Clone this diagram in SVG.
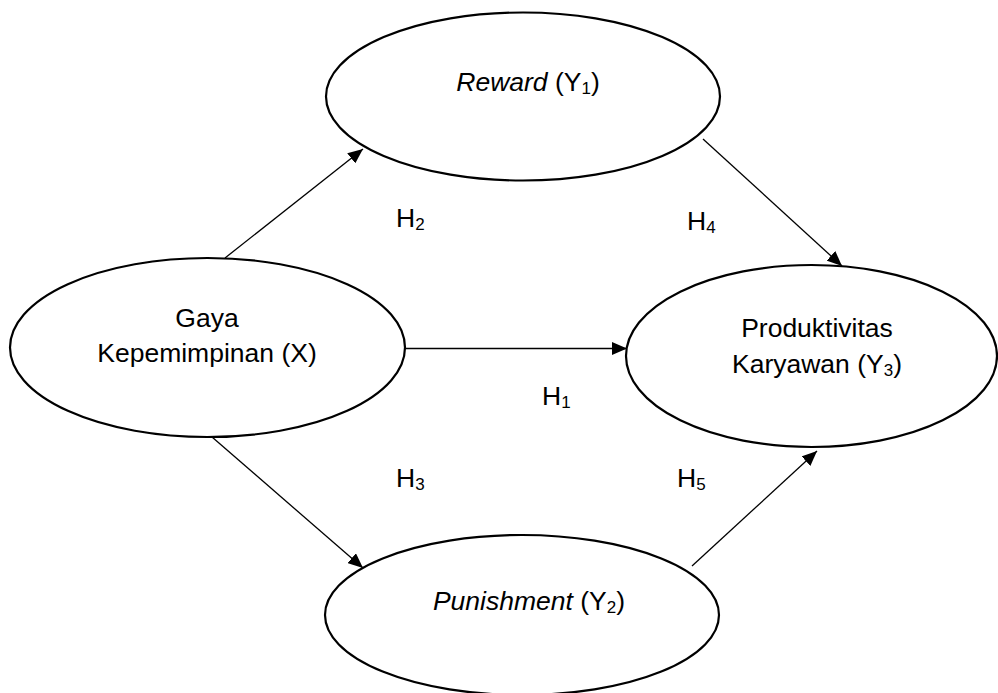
<svg xmlns="http://www.w3.org/2000/svg" width="998" height="693" viewBox="0 0 998 693">
<style>
.node{fill:#fff;stroke:#000;stroke-width:2.2}
.edge{stroke:#000;stroke-width:1.3;fill:none;marker-end:url(#ah)}
text{font-family:"Liberation Sans",Arial,sans-serif;font-size:26.5px;fill:#000;text-anchor:middle}
.lbl{text-anchor:start}
.sub{font-size:17px;baseline-shift:-3px}
</style>
<defs>
<marker id="ah" markerUnits="userSpaceOnUse" markerWidth="16" markerHeight="13" refX="15" refY="6.5" orient="auto">
<path d="M0,0 L15,6.5 L0,13 Z" fill="#000"/>
</marker>
</defs>
<rect width="998" height="693" fill="#fff"/>
<g id="connectors">
<line class="edge" x1="225" y1="258" x2="363" y2="149"/>
<line class="edge" x1="703" y1="139" x2="842" y2="266"/>
<line class="edge" x1="405" y1="348.5" x2="627" y2="348.5"/>
<line class="edge" x1="212" y1="437" x2="363" y2="568"/>
<line class="edge" x1="692" y1="566" x2="817" y2="451"/>
</g>
<g id="reward">
<ellipse class="node" cx="523" cy="96.5" rx="197" ry="84"/>
<text x="528" y="91"><tspan font-style="italic">Reward</tspan> (Y<tspan class="sub">1</tspan>)</text>
</g>
<g id="gaya">
<ellipse class="node" cx="207.5" cy="347.5" rx="197.5" ry="89.5"/>
<text x="207" y="327">Gaya</text>
<text x="207" y="362">Kepemimpinan (X)</text>
</g>
<g id="produktivitas">
<ellipse class="node" cx="811.5" cy="356" rx="185.5" ry="91"/>
<text x="817" y="337">Produktivitas</text>
<text x="817" y="373">Karyawan (Y<tspan class="sub">3</tspan>)</text>
</g>
<g id="punishment">
<ellipse class="node" cx="522" cy="615" rx="197" ry="80"/>
<text x="529" y="610"><tspan font-style="italic">Punishment</tspan> (Y<tspan class="sub">2</tspan>)</text>
</g>
<g id="labels">
<text class="lbl" x="396" y="227">H<tspan class="sub">2</tspan></text>
<text class="lbl" x="687" y="230">H<tspan class="sub">4</tspan></text>
<text class="lbl" x="542" y="405">H<tspan class="sub">1</tspan></text>
<text class="lbl" x="396" y="487">H<tspan class="sub">3</tspan></text>
<text class="lbl" x="677" y="487">H<tspan class="sub">5</tspan></text>
</g>
</svg>
